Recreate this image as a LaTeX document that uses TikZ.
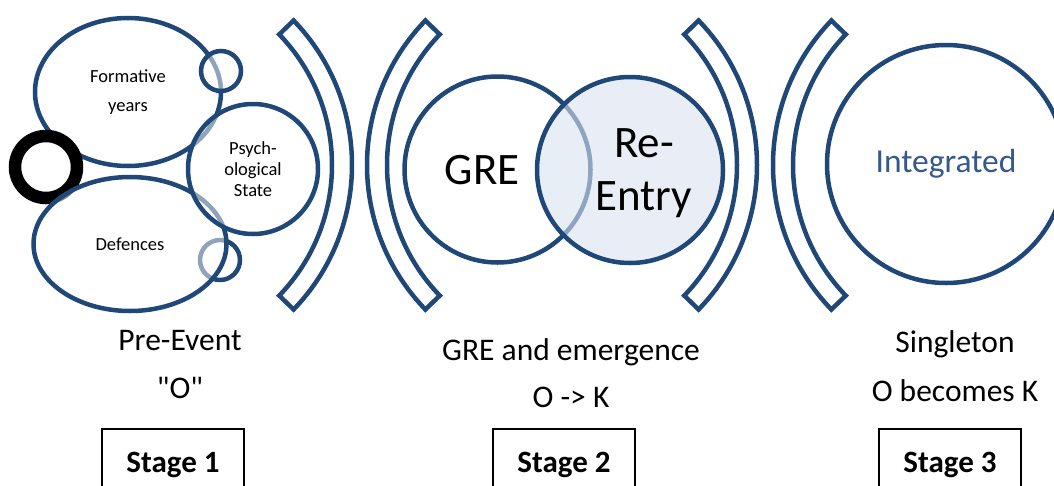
\documentclass[tikz,border=0pt]{standalone}
\usepackage{fontspec}
\setmainfont{Carlito}[Ligatures=TeXOff]
\usetikzlibrary{shapes.geometric}
\definecolor{navy}{HTML}{1F4778}
\definecolor{inktext}{HTML}{34598A}
\definecolor{paleblue}{HTML}{DAE3F0}

\begin{document}
\begin{tikzpicture}[x=1pt,y=-1pt,
  outline/.style={draw=navy, line width=4.5pt},
  veil/.style={fill=white, fill opacity=0.5, text opacity=1},
  oval/.style={ellipse, outline, veil, inner sep=0pt, align=center},
  disc/.style={circle, outline, veil, inner sep=0pt, align=center},
  brace/.style={outline, line join=miter},
  small/.style={font=\fontsize{18.5}{21}\selectfont},
  big/.style={font=\fontsize{45}{53}\selectfont, align=center, inner sep=0pt},
  caption/.style={font=\fontsize{31.5}{36}\selectfont, anchor=base, inner sep=0pt},
  stagebox/.style={draw=black, line width=1.8pt, minimum width=142pt,
    minimum height=72pt, inner sep=0pt, font=\fontsize{31}{36}\selectfont\bfseries},
]
\useasboundingbox (0,0) rectangle (1054,485);

% ---- Stage 1: the pre-event cluster
\node[disc, minimum size=40pt] (dotlow) at (220,260) {};
\node[oval, minimum width=186pt, minimum height=148pt, small] (formative) at (128,92) {Formative\\[8pt]years};
\node[circle, draw=black, line width=12.5pt, veil, minimum size=62pt, inner sep=0pt] (ring) at (46,167) {};
\node[oval, minimum width=193pt, minimum height=134pt, small] (defences) at (130,244) {Defences};
\node[disc, minimum size=40pt] (dottop) at (221,71) {};
\node[disc, minimum size=130pt, small] (psych) at (253,169) {Psych-\\ological\\State};

% ---- curved separators (block arcs)
\draw[brace] ([shift={(44:208)}]144,165) arc[start angle=44, end angle=-44, radius=208]
  -- ([shift={(-44:188)}]144,165) arc[start angle=-44, end angle=44, radius=188] -- cycle;
\draw[brace] ([shift={(136:208)}]575,165) arc[start angle=136, end angle=224, radius=208]
  -- ([shift={(224:188)}]575,165) arc[start angle=224, end angle=136, radius=188] -- cycle;
\draw[brace] ([shift={(44:208)}]549,165) arc[start angle=44, end angle=-44, radius=208]
  -- ([shift={(-44:188)}]549,165) arc[start angle=-44, end angle=44, radius=188] -- cycle;
\draw[brace] ([shift={(136:208)}]981,165) arc[start angle=136, end angle=224, radius=208]
  -- ([shift={(224:188)}]981,165) arc[start angle=224, end angle=136, radius=188] -- cycle;

% ---- Stage 2: GRE and re-entry
\node[circle, outline, fill=white, inner sep=0pt, minimum size=186pt] (gre) at (497.5,169.5) {};
\node[big] (gretext) at (482,170) {GRE};
\node[circle, outline, fill=paleblue, fill opacity=0.6, inner sep=0pt, minimum size=186pt] (reentry) at (630,170) {};
\node[big] (reentrytext) at (644,173.5) {Re-\\Entry};

% ---- Stage 3: integrated
\node[disc, fill opacity=1, minimum size=238pt, text=inktext,
  font=\fontsize{33.5}{40}\selectfont] (integrated) at (946,164) {Integrated};

% ---- captions
\node[caption] (pre) at (180,350) {Pre-Event};
\node[caption] (oquote) at (180,398) {"O"};
\node[caption] (emerge) at (571,360) {GRE and emergence};
\node[caption] (otok) at (571,407) {O -> K};
\node[caption] (single) at (955,352) {Singleton};
\node[caption] (becomes) at (955,401) {O becomes K};

% ---- stage labels
\node[stagebox] (stage1) at (173,465) {Stage 1};
\node[stagebox] (stage2) at (564,465) {Stage 2};
\node[stagebox] (stage3) at (950,465) {Stage 3};
\end{tikzpicture}
\end{document}
